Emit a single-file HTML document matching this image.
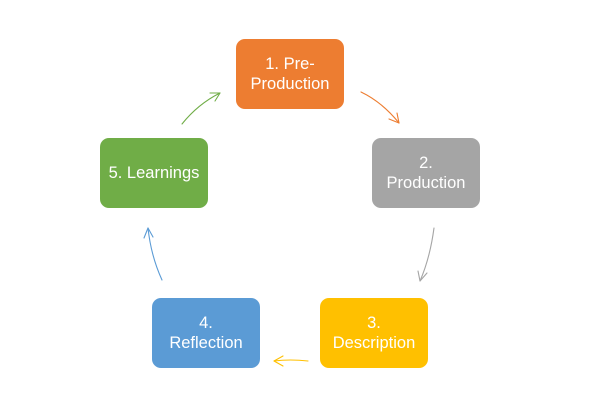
<!DOCTYPE html>
<html><head><meta charset="utf-8"><style>
html,body{margin:0;padding:0;background:#fff;}
svg{display:block;}
text{font-family:"Liberation Sans",sans-serif;font-size:16.5px;fill:#fff;text-anchor:middle;}
</style></head><body>
<svg width="602" height="404" viewBox="0 0 602 404" xmlns="http://www.w3.org/2000/svg">
<rect x="236" y="39" width="108" height="70" rx="9" fill="#ED7D31"/>
<text x="290" y="69">1. Pre-</text><text x="290" y="89">Production</text>
<rect x="372" y="138" width="108" height="70" rx="9" fill="#A5A5A5"/>
<text x="426" y="168">2.</text><text x="426" y="188">Production</text>
<rect x="320" y="298" width="108" height="70" rx="9" fill="#FFC000"/>
<text x="374" y="328">3.</text><text x="374" y="348">Description</text>
<rect x="152" y="298" width="108" height="70" rx="9" fill="#5B9BD5"/>
<text x="206" y="328">4.</text><text x="206" y="348">Reflection</text>
<rect x="100" y="138" width="108" height="70" rx="9" fill="#70AD47"/>
<text x="154" y="178">5. Learnings</text>
<g fill="none" stroke-width="1.1" stroke-linecap="round">
<path d="M361 92 Q382 102 399 123" stroke="#ED7D31"/>
<path d="M399 123 L389 119 M399 123 L397 113" stroke="#ED7D31"/>
<path d="M434 228 Q430 258 420 281" stroke="#A5A5A5"/>
<path d="M420 281 L418 271 M420 281 L427 273" stroke="#A5A5A5"/>
<path d="M308 361 Q290 359 274 361" stroke="#FFC000"/>
<path d="M274 361 L283 356 M274 361 L283 366" stroke="#FFC000"/>
<path d="M162 280 Q151 256 148 228" stroke="#5B9BD5"/>
<path d="M148 228 L144 238 M148 228 L153 237" stroke="#5B9BD5"/>
<path d="M182 124 Q198 104 220 93" stroke="#70AD47"/>
<path d="M220 93 L210 93 M220 93 L215 101" stroke="#70AD47"/>
</g>
</svg>
</body></html>
